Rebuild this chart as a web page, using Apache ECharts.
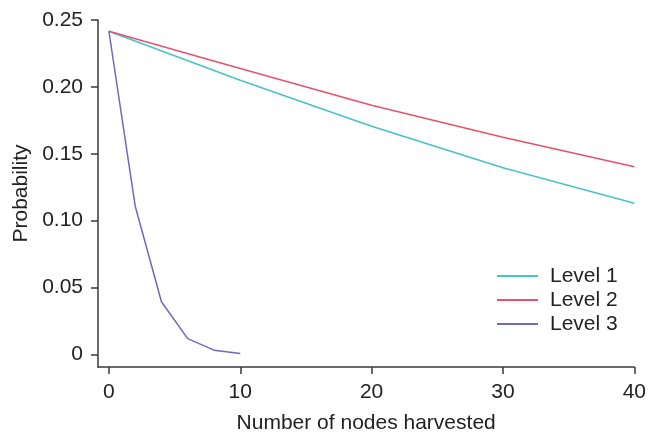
<!DOCTYPE html>
<html>
<head>
<meta charset="utf-8">
<script src="https://cdn.jsdelivr.net/npm/echarts@6/dist/echarts.min.js"></script>
<style>html,body{margin:0;padding:0;background:#fff}#c{width:649px;height:439px}</style>
</head>
<body>
<div id="c"></div>
<script>
var xTicks = [0, 10, 20, 30, 40];
var yTicks = [0, 0.05, 0.10, 0.15, 0.20, 0.25];
var yTickLabels = ['0', '0.05', '0.10', '0.15', '0.20', '0.25'];
var level1X = [0, 10, 20, 30, 40];
var level1Y = [0.2416, 0.205, 0.1706, 0.1395, 0.113];
var level2X = [0, 10, 20, 30, 40];
var level2Y = [0.2416, 0.2137, 0.1863, 0.1623, 0.1403];
var level3X = [0, 2, 4, 6, 8, 10];
var level3Y = [0.2416, 0.111, 0.0394, 0.0118, 0.0032, 0.0007];

function pairs(xs, ys) { return xs.map(function (x, i) { return [x, ys[i]]; }); }

var font = '"Liberation Sans", Arial, sans-serif';
var axisCol = '#3a3a3a';
var textCol = '#222222';
var fs = 21;
var chart = echarts.init(document.getElementById('c'));
chart.setOption({
  animation: false,
  textStyle: { fontFamily: font },
  grid: { left: 98, right: 12, top: 20, bottom: 67, containLabel: false },
  legend: {
    orient: 'vertical', left: 497, top: 264, padding: 0, itemWidth: 41, itemHeight: 2, itemGap: 0,
    icon: 'rect',
    textStyle: { fontSize: fs, lineHeight: 24, height: 24, color: textCol, fontFamily: font, padding: [0, 0, 0, 7] },
    data: ['Level 1', 'Level 2', 'Level 3']
  },
  xAxis: {
    type: 'value', min: -0.83, max: 40,
    name: 'Number of nodes harvested', nameLocation: 'middle', nameGap: 46,
    nameTextStyle: { fontSize: fs, color: textCol, fontFamily: font },
    axisLine: { show: true, onZero: false, lineStyle: { color: axisCol, width: 1.5 } },
    axisTick: { show: true, customValues: xTicks, length: 7, lineStyle: { color: axisCol, width: 1.5 } },
    axisLabel: { customValues: xTicks, fontSize: fs, color: textCol, margin: 15, fontFamily: font },
    splitLine: { show: false }
  },
  yAxis: {
    type: 'value', min: -0.0094, max: 0.25,
    name: 'Probability', nameLocation: 'middle', nameGap: 65,
    nameTextStyle: { fontSize: fs, color: textCol, fontFamily: font },
    axisLine: { show: true, onZero: false, lineStyle: { color: axisCol, width: 1.5 } },
    axisTick: { show: true, customValues: yTicks, length: 7, lineStyle: { color: axisCol, width: 1.5 } },
    axisLabel: {
      customValues: yTicks, fontSize: fs, color: textCol, margin: 15, fontFamily: font,
      formatter: function (v) {
        var i = yTicks.findIndex(function (t) { return Math.abs(t - v) < 1e-9; });
        return i >= 0 ? yTickLabels[i] : '';
      }
    },
    splitLine: { show: false }
  },
  series: [
    { name: 'Level 1', type: 'line', data: pairs(level1X, level1Y), showSymbol: false, symbol: 'none',
      lineStyle: { color: '#45C3C7', width: 1.5 }, itemStyle: { color: '#45C3C7' } },
    { name: 'Level 2', type: 'line', data: pairs(level2X, level2Y), showSymbol: false, symbol: 'none',
      lineStyle: { color: '#E8506F', width: 1.5 }, itemStyle: { color: '#E8506F' } },
    { name: 'Level 3', type: 'line', data: pairs(level3X, level3Y), showSymbol: false, symbol: 'none',
      lineStyle: { color: '#6E69B8', width: 1.5 }, itemStyle: { color: '#6E69B8' } }
  ]
});
</script>
</body>
</html>
